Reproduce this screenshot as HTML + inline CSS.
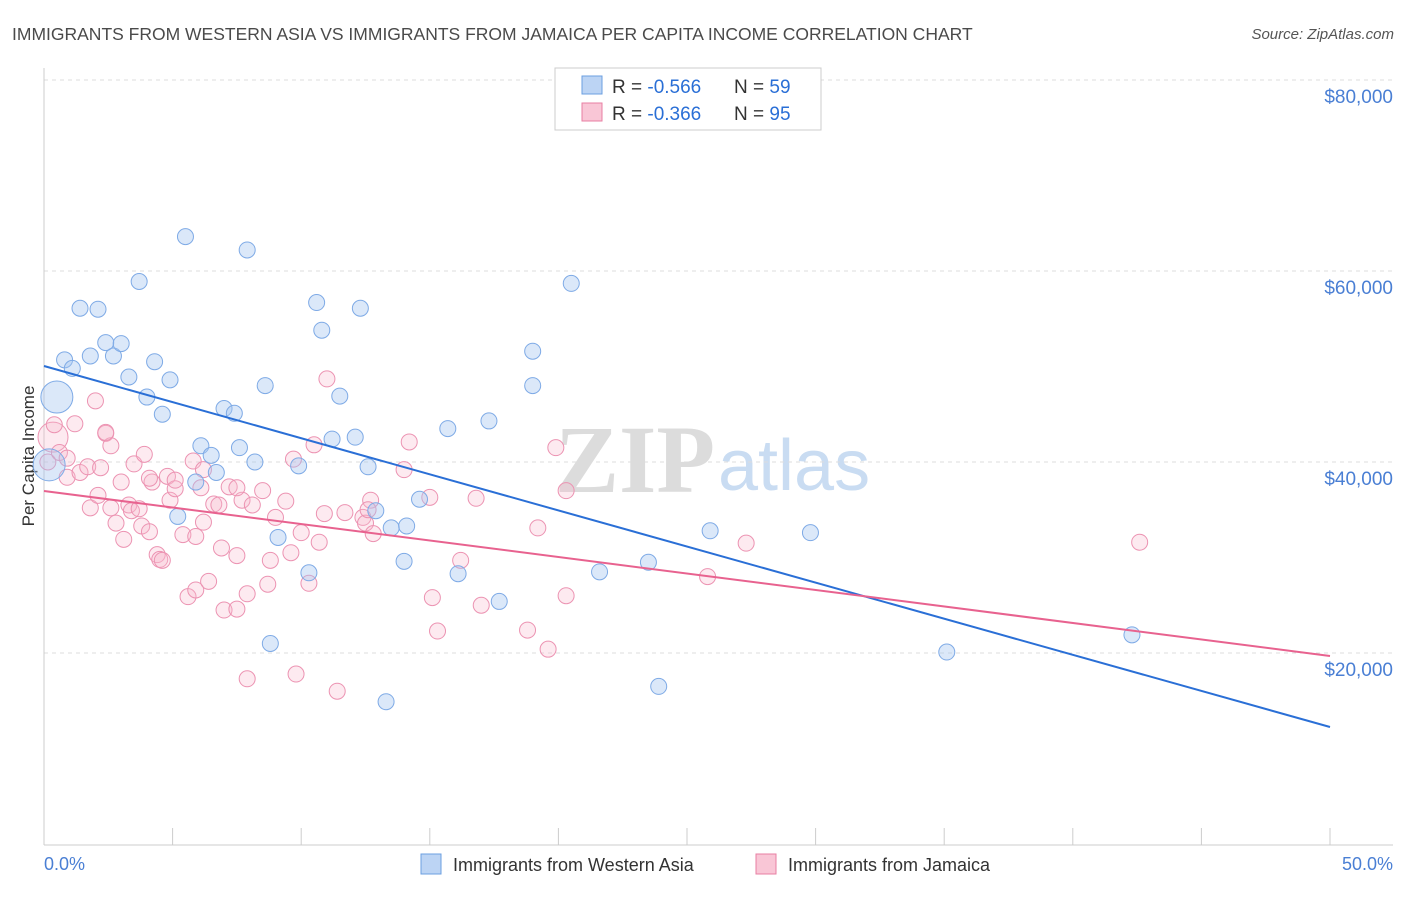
<!DOCTYPE html>
<html><head><meta charset="utf-8"><style>
body{margin:0;background:#fff;font-family:"Liberation Sans",sans-serif;}
</style></head><body>
<svg id="chart" width="1406" height="892" xmlns="http://www.w3.org/2000/svg" font-family="Liberation Sans, sans-serif">
<text x="12" y="40" font-size="17.5" fill="#4a4a4a">IMMIGRANTS FROM WESTERN ASIA VS IMMIGRANTS FROM JAMAICA PER CAPITA INCOME CORRELATION CHART</text>
<text x="1394" y="39" font-size="15" fill="#555" text-anchor="end" font-style="italic">Source: ZipAtlas.com</text>
<g>
<text x="555" y="492" font-size="96" fill="#dcdcdc" font-family="Liberation Serif, serif" font-weight="bold">ZIP</text>
<text x="718" y="490" font-size="72" fill="#c9dcf2">atlas</text>
</g>
<g id="grid"></g>
<line x1="44" y1="68" x2="44" y2="845" stroke="#ccc"/>
<line x1="44" y1="845" x2="1393" y2="845" stroke="#ccc"/>
<g id="xticks"></g>
<text transform="translate(34,456) rotate(-90)" font-size="17" fill="#333" text-anchor="middle">Per Capita Income</text>
<text x="44" y="870" font-size="18" fill="#4a7fd4">0.0%</text>
<text x="1393" y="870" font-size="18" fill="#4a7fd4" text-anchor="end">50.0%</text>
<g id="pinkpts"></g><g id="bluepts"></g><g id="lines"></g>
<g>
<rect x="555" y="68" width="266" height="62" fill="#fff" stroke="#ccc"/>
<rect x="582" y="76" width="20" height="18" fill="#bcd4f4" stroke="#6b9fe0"/>
<rect x="582" y="103" width="20" height="18" fill="#f9c6d6" stroke="#e87fa3"/>
<text x="612" y="93" font-size="19" fill="#333">R = <tspan fill="#2a6fd6">-0.566</tspan></text>
<text x="734" y="93" font-size="19" fill="#333">N = <tspan fill="#2a6fd6">59</tspan></text>
<text x="612" y="120" font-size="19" fill="#333">R = <tspan fill="#2a6fd6">-0.366</tspan></text>
<text x="734" y="120" font-size="19" fill="#333">N = <tspan fill="#2a6fd6">95</tspan></text>
</g>
<g>
<rect x="421" y="854" width="20" height="20" fill="#bcd4f4" stroke="#6b9fe0"/>
<text x="453" y="871" font-size="18" fill="#333">Immigrants from Western Asia</text>
<rect x="756" y="854" width="20" height="20" fill="#f9c6d6" stroke="#e87fa3"/>
<text x="788" y="871" font-size="18" fill="#333">Immigrants from Jamaica</text>
</g>
</svg>
<script>
const yTicks=[20000,40000,60000,80000];
const yTickLabels=["$20,000","$40,000","$60,000","$80,000"];
const blueX=[0.5,0.2,0.8,1.1,1.4,2.1,1.8,2.7,2.4,3.0,3.3,3.7,4.0,4.3,4.6,4.9,5.5,5.2,5.9,6.1,6.5,6.7,7.0,7.4,7.6,7.9,8.2,8.6,9.1,8.8,9.9,10.3,10.6,10.8,11.2,11.5,12.1,12.3,12.6,12.9,13.3,13.5,14.0,14.1,14.6,15.7,16.1,17.3,17.7,19.0,19.0,20.5,21.6,23.5,23.9,25.9,29.8,35.1,42.3];
const blueY=[46.8,39.7,50.7,49.8,56.1,56.0,51.1,51.1,52.5,52.4,48.9,58.9,46.8,50.5,45.0,48.6,63.6,34.3,37.9,41.7,40.7,38.9,45.6,45.1,41.5,62.2,40.0,48.0,32.1,21.0,39.6,28.4,56.7,53.8,42.4,46.9,42.6,56.1,39.5,34.9,14.9,33.1,29.6,33.3,36.1,43.5,28.3,44.3,25.4,51.6,48.0,58.7,28.5,29.5,16.5,32.8,32.6,20.1,21.9];
const pinkX=[0.35,0.15,0.4,0.6,0.9,0.9,1.2,1.4,1.7,1.8,2.0,2.1,2.2,2.4,2.6,2.4,2.8,3.0,3.1,3.3,3.5,3.4,3.7,3.9,3.8,4.1,4.2,4.4,4.5,4.6,4.8,4.9,5.1,5.1,5.4,5.6,5.8,5.9,5.9,6.1,6.2,6.4,6.6,6.8,6.9,7.0,7.2,7.5,7.5,7.7,7.9,7.9,8.1,8.5,8.7,8.8,9.0,9.4,9.6,9.7,9.8,10.0,10.3,10.5,10.7,10.9,11.0,11.4,12.4,12.5,12.7,12.8,14.0,14.2,15.0,15.1,15.3,16.2,16.8,17.0,18.8,19.2,19.6,19.9,20.3,20.3,25.8,27.3,42.6,12.6,11.7,7.5,6.2,2.6,4.1];
const pinkY=[42.6,40.0,43.9,41.0,38.4,40.4,44.0,38.9,39.5,35.2,46.4,36.5,39.4,43.0,41.7,43.1,33.6,37.9,31.9,35.5,39.8,34.9,35.1,40.8,33.3,32.7,37.9,30.3,29.8,29.7,38.5,36.0,37.2,38.1,32.4,25.9,40.1,26.6,32.2,37.3,33.7,27.5,35.6,35.5,31.0,24.5,37.4,24.6,30.2,36.0,17.3,26.2,35.5,37.0,27.2,29.7,34.2,35.9,30.5,40.3,17.8,32.6,27.3,41.8,31.6,34.6,48.7,16.0,34.2,33.6,36.0,32.5,39.2,42.1,36.3,25.8,22.3,29.7,36.2,25.0,22.4,33.1,20.4,41.5,37.0,26.0,28.0,31.5,31.6,35.0,34.7,37.3,39.2,35.2,38.3];
const blueTrend=[50.05,12.25];
const pinkTrend=[36.96,19.69];
const NS="http://www.w3.org/2000/svg";
const X=v=>44+v/50*1286;
const Y=v=>844-v/20000*191;
const Yk=v=>Y(v*1000);
function mk(tag,attrs,parent){const e=document.createElementNS(NS,tag);for(const k in attrs)e.setAttribute(k,attrs[k]);parent.appendChild(e);return e;}
const grid=document.getElementById('grid');
yTicks.forEach((t,i)=>{
 const l=mk('line',{x1:44,x2:1393,y1:Y(t),y2:Y(t),stroke:'#ddd','stroke-dasharray':'4,4'},grid);
 
 
 const tx=mk('text',{x:1393,y:Y(t)+23,'font-size':19,fill:'#4a7fd4','text-anchor':'end'},grid);
 tx.textContent=yTickLabels[i];
 
 
});
const xt=document.getElementById('xticks');
for(let i=0;i<=10;i++){
 const l=mk('line',{x1:X(i*5),x2:X(i*5),y1:828,y2:845,stroke:'#ccc'},xt);
 
 
}
const bp=document.getElementById('bluepts');
blueX.forEach((x,i)=>{
 const c=mk('circle',{cx:X(x),cy:Yk(blueY[i]),r:i<2?16:8,fill:'rgba(165,198,240,0.4)',stroke:'#7eaae6','stroke-width':1},bp);
 
 
});
const pp=document.getElementById('pinkpts');
pinkX.forEach((x,i)=>{
 const c=mk('circle',{cx:X(x),cy:Yk(pinkY[i]),r:i<1?15:8,fill:'rgba(247,185,205,0.3)',stroke:'#ec93b2','stroke-width':1},pp);
 
 
});
const lg=document.getElementById('lines');
const bl=mk('line',{x1:X(0),y1:Yk(blueTrend[0]),x2:X(50),y2:Yk(blueTrend[1]),stroke:'#2a6fd6','stroke-width':2},lg);


const pl=mk('line',{x1:X(0),y1:Yk(pinkTrend[0]),x2:X(50),y2:Yk(pinkTrend[1]),stroke:'#e8628f','stroke-width':2},lg);


</script>
</body></html>
